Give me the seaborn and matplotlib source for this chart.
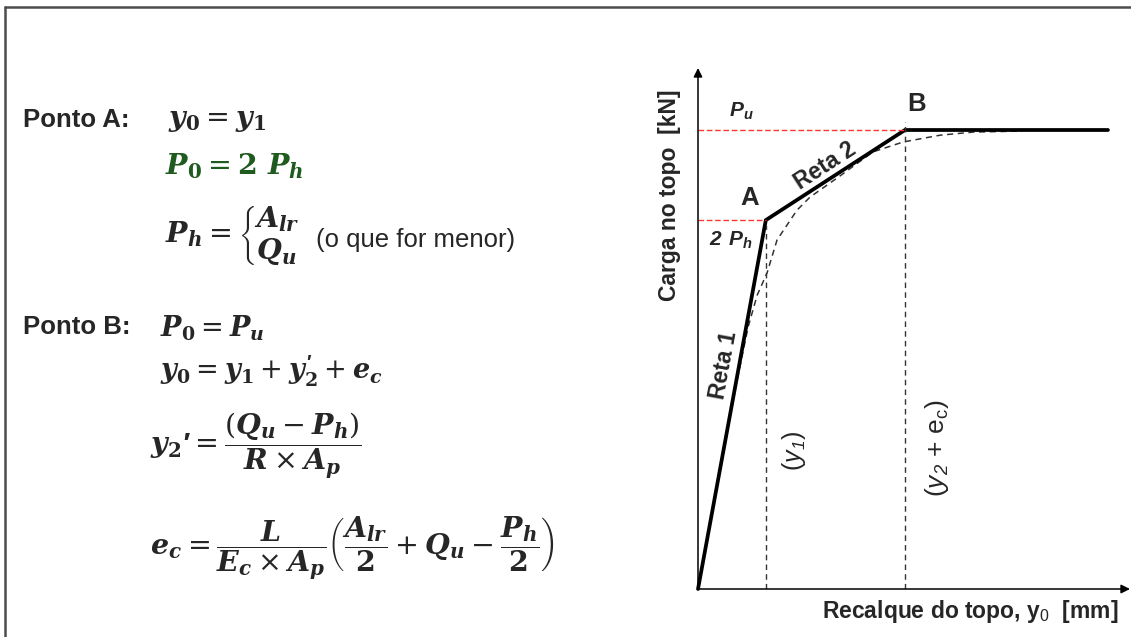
import matplotlib
matplotlib.use("Agg")
import matplotlib.pyplot as plt
from matplotlib.lines import Line2D
import seaborn as sns
import pandas as pd

# Bilinear load-settlement model (schematic units)
recalque = [0.0, 1.57, 4.79, 9.49]          # settlement at top
carga = [0.0, 7.08, 8.81, 8.81]             # load at top
y1 = recalque[1]
y2_ec = recalque[2]
dois_ph = carga[1]
pu = carga[2]

# Smooth measured-type curve
curva_x = [0.0, 0.86, 1.16, 1.37, 1.60, 1.83, 2.29, 2.59, 3.29, 4.05, 4.75, 5.60, 6.37, 7.52]
curva_y = [0.0, 3.82, 5.03, 5.64, 6.07, 6.70, 7.27, 7.52, 7.93, 8.39, 8.58, 8.71, 8.77, 8.79]

sns.set_theme(style="white")
plt.rcParams["font.family"] = ["Liberation Sans", "DejaVu Sans"]
plt.rcParams["mathtext.fontset"] = "custom"
plt.rcParams["mathtext.it"] = "DejaVu Serif:italic:bold"
plt.rcParams["mathtext.rm"] = "DejaVu Serif"
plt.rcParams["mathtext.bf"] = "DejaVu Serif:bold"
plt.rcParams["mathtext.sf"] = "Liberation Sans:italic:bold"
plt.rcParams["mathtext.tt"] = "Liberation Sans:italic"
plt.rcParams["mathtext.cal"] = "Liberation Sans"

W, H = 1131, 637
fig = plt.figure(figsize=(W / 100, H / 100), dpi=100)
fig.patch.set_facecolor("white")


def px(x, y):
    return x / W, 1 - y / H


# Outer frame (top and left edges)
fig.add_artist(Line2D([5 / W, 1.0], [1 - 7 / H, 1 - 7 / H], transform=fig.transFigure,
                      color="#4d4d4d", lw=1.8))
fig.add_artist(Line2D([5 / W, 5 / W], [1 - 7 / H, 0.0], transform=fig.transFigure,
                      color="#4d4d4d", lw=1.8))

# ---- Equations ----
eq_size = 20.5
lbl_size = 18.5
green = "#1f5a1f"
fig.text(*px(23, 120), "Ponto A:", fontsize=lbl_size, fontweight="bold", va="center", ha="left")
fig.text(*px(168, 121), r"$y_{\mathbf{0}} = y_{\mathbf{1}}$", fontsize=eq_size, va="center")
fig.text(*px(165, 166), r"$P_{\mathbf{0}} = \mathbf{2}\ P_h$", fontsize=eq_size, va="center",
         color=green)
fig.text(*px(165, 236), r"$P_h = \left\{\genfrac{}{}{0}{0}{A_{lr}}{Q_u}\right.$",
         fontsize=eq_size, va="center")
fig.text(*px(316, 240), "(o que for menor)", fontsize=18.5, va="center")

fig.text(*px(23, 327), "Ponto B:", fontsize=lbl_size, fontweight="bold", va="center", ha="left")
fig.text(*px(160, 328), r"$P_{\mathbf{0}} = P_u$", fontsize=19.5, va="center")
fig.text(*px(160, 371), r"$y_{\mathbf{0}} = y_{\mathbf{1}} + y_{\mathbf{2}}^{\mathsf{\prime}} + e_c$",
         fontsize=19.5, va="center")
fig.text(*px(150, 446), r"$y_{\mathbf{2}}\mathsf{\prime} = \dfrac{(Q_u - P_h)}{R \times A_p}$",
         fontsize=eq_size, va="center")
fig.text(*px(150, 548),
         r"$e_c = \dfrac{L}{E_c \times A_p}\left(\dfrac{A_{lr}}{\mathbf{2}} + Q_u - \dfrac{P_h}{\mathbf{2}}\right)$",
         fontsize=eq_size, va="center")

# ---- Load-settlement chart ----
x0, y0, x1, y1px = 698, 589, 1130, 68
ax = fig.add_axes([x0 / W, 1 - y0 / H, (x1 - x0) / W, (y0 - y1px) / H])
ax.set_xlim(0, 10)
ax.set_ylim(0, 10)
ax.set_axis_off()

modelo = pd.DataFrame({"recalque": recalque, "carga": carga})
curva = pd.DataFrame({"recalque": curva_x, "carga": curva_y})

sns.lineplot(data=curva, x="recalque", y="carga", sort=False, ax=ax, color="#333333",
             lw=1.1, linestyle=(0, (4, 3)), clip_on=False)
sns.lineplot(data=modelo, x="recalque", y="carga", sort=False, ax=ax, color="black",
             lw=2.7, clip_on=False, solid_joinstyle="miter")

ax.vlines([y1], 0, 6.99, colors="#333333", lw=1.0, linestyles=[(0, (4, 3))])
ax.vlines([y2_ec], 0, 8.96, colors="#333333", lw=1.0, linestyles=[(0, (4, 3))])
ax.hlines([pu], 0, y2_ec, colors="#ff3333", lw=1.0, linestyles=[(0, (4, 2))])
ax.hlines([dois_ph], 0, y1, colors="#ff3333", lw=1.0, linestyles=[(0, (4, 2))])

arrow = dict(arrowstyle="-|>", color="black", lw=1.1, mutation_scale=13, shrinkA=0, shrinkB=0)
ax.annotate("", xy=(0, 1), xytext=(0, 0), xycoords="axes fraction", arrowprops=arrow)
ax.annotate("", xy=(1, 0), xytext=(0, 0), xycoords="axes fraction", arrowprops=arrow)

ax.text(-0.065, 0.756, "Carga no topo  [kN]", transform=ax.transAxes, rotation=90,
        ha="center", va="center", fontsize=16.5, fontweight="bold")
ax.text(0.63, -0.044, r"Recalque do topo, y$_{\mathcal{0}}$  [mm]", transform=ax.transAxes,
        ha="center", va="center", fontsize=16.5, fontweight="bold")

ax.text(y2_ec + 0.28, pu + 0.5, "B", fontsize=18.5, fontweight="bold", ha="center", va="center")
ax.text(y1 - 0.37, dois_ph + 0.42, "A", fontsize=18.5, fontweight="bold", ha="center", va="center")
ax.text(1.0, pu + 0.35, r"$\mathsf{P_u}$", fontsize=15, ha="center", va="center")
ax.text(0.75, dois_ph - 0.38, r"$\mathsf{2\ P_h}$", fontsize=15, ha="center", va="center")
ax.text(2.95, 8.12, "Reta 2", fontsize=16.5, fontweight="bold", rotation=33,
        ha="center", va="center", rotation_mode="anchor")
ax.text(0.6, 4.3, "Reta 1", fontsize=16.5, fontweight="bold", rotation=79.5,
        ha="center", va="center", rotation_mode="anchor")
ax.text(y1 + 0.65, 2.65, r"($\mathtt{y_1}$)", fontsize=18, rotation=90, ha="center", va="center")
ax.text(y2_ec + 0.75, 2.7, r"($\mathtt{y_2}$ + e$_{\mathcal{c}}$)", fontsize=19, rotation=90,
        ha="center", va="center")

fig.savefig("out.png", dpi=100, facecolor="white")
